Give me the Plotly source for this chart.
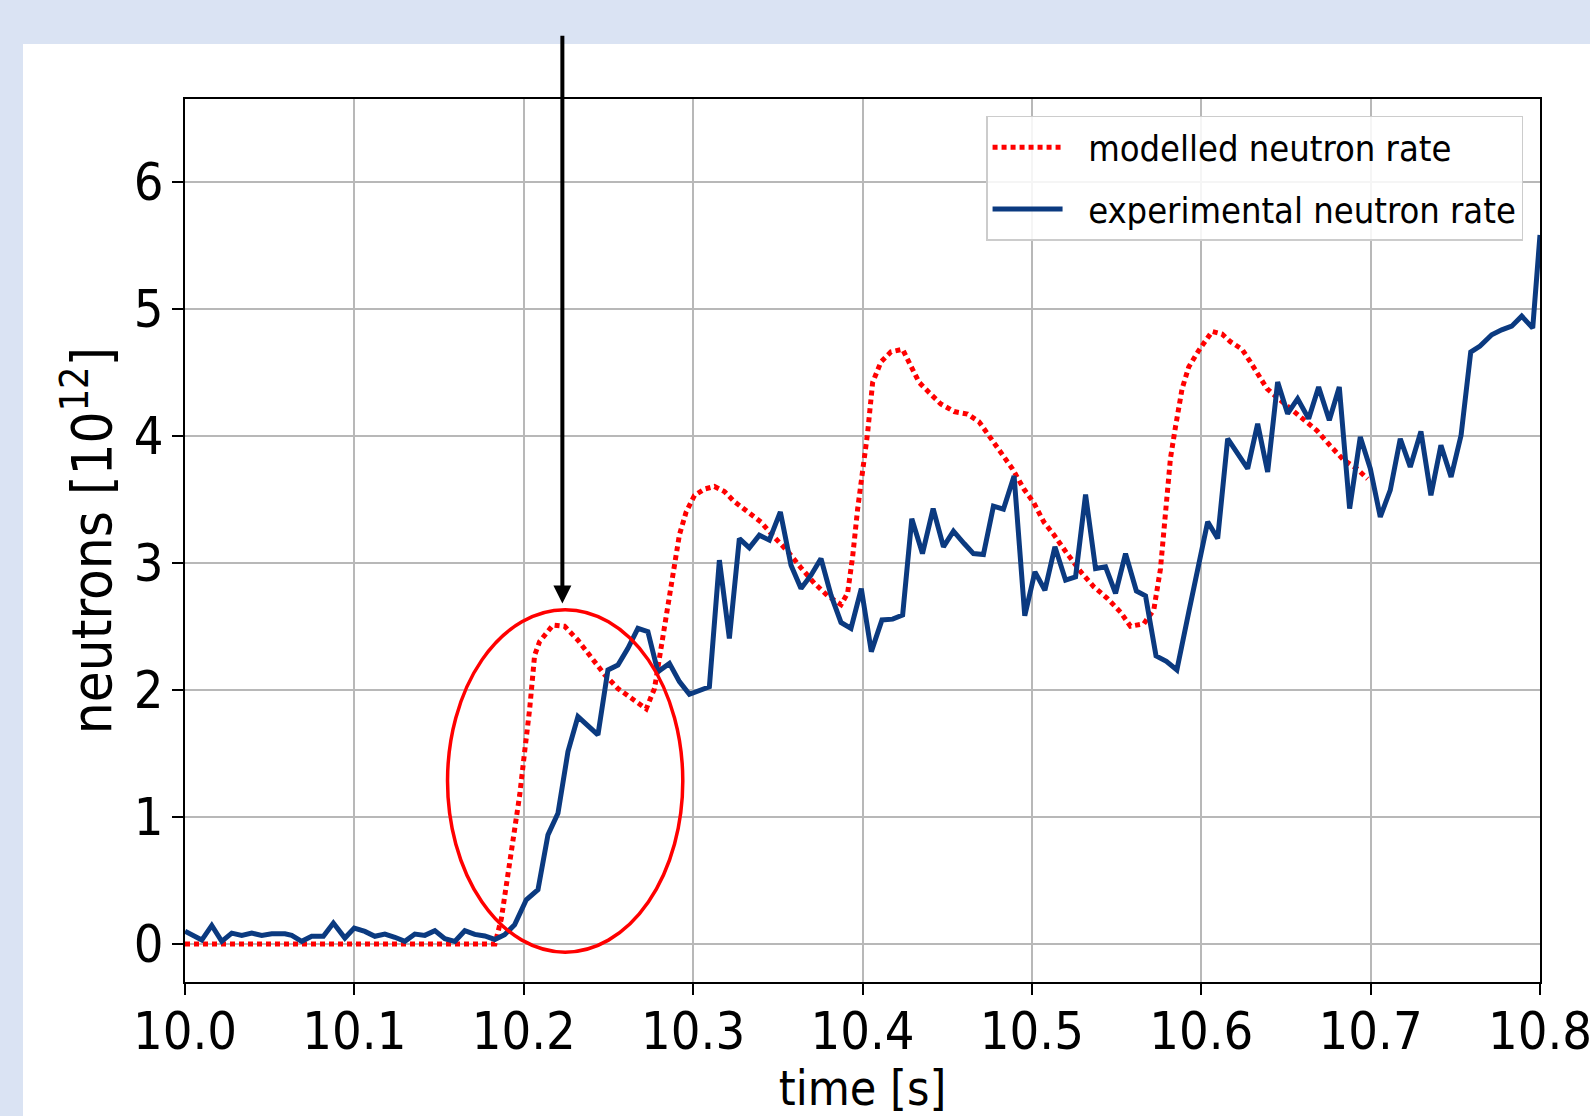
import plotly.graph_objects as go

# ---------------- data ----------------
t_model = [10.0, 10.183, 10.1868, 10.1907, 10.1946, 10.1976, 10.2005, 10.2035, 10.2064, 10.2094,
           10.2173, 10.2241, 10.232, 10.2399, 10.2477, 10.2556, 10.2654, 10.2723, 10.2772, 10.2801,
           10.2831, 10.2851, 10.288, 10.2919, 10.2959, 10.3008, 10.3067, 10.3126, 10.3185, 10.3244,
           10.3323, 10.3401, 10.348, 10.3558, 10.3637, 10.3715, 10.3794, 10.3873, 10.3912, 10.3942,
           10.3971, 10.4001, 10.403, 10.406, 10.4109, 10.4168, 10.4237, 10.4285, 10.4334, 10.4393,
           10.4462, 10.4541, 10.462, 10.4688, 10.4747, 10.4816, 10.4885, 10.4953, 10.5012, 10.5071,
           10.513, 10.5209, 10.5288, 10.5366, 10.5445, 10.5524, 10.5582, 10.5661, 10.572, 10.5759,
           10.5789, 10.5818, 10.5848, 10.5887, 10.5926, 10.5985, 10.6064, 10.6123, 10.6172, 10.6241,
           10.629, 10.6329, 10.6388, 10.6457, 10.6526, 10.6604, 10.6683, 10.6762, 10.684, 10.6919,
           10.6982]
n_model = [0.0, 0.0, 0.20, 0.54, 0.86, 1.17, 1.51, 1.85, 2.27, 2.38,
           2.51, 2.50, 2.39, 2.25, 2.12, 2.01, 1.92, 1.85, 2.01, 2.25,
           2.53, 2.64, 2.90, 3.22, 3.40, 3.53, 3.58, 3.60, 3.56, 3.48,
           3.40, 3.32, 3.20, 3.09, 2.96, 2.84, 2.74, 2.67, 2.76, 3.05,
           3.42, 3.70, 4.02, 4.42, 4.58, 4.66, 4.68, 4.55, 4.42, 4.34,
           4.25, 4.19, 4.17, 4.11, 4.00, 3.87, 3.74, 3.58, 3.47, 3.32,
           3.22, 3.07, 2.93, 2.81, 2.72, 2.61, 2.50, 2.52, 2.63, 2.95,
           3.45, 3.82, 4.07, 4.37, 4.54, 4.67, 4.82, 4.80, 4.74, 4.68,
           4.58, 4.49, 4.37, 4.29, 4.21, 4.13, 4.04, 3.92, 3.81, 3.74,
           3.66]

t_exp = [10.0, 10.0099, 10.0158, 10.0217, 10.0276, 10.0335, 10.0394, 10.0453, 10.0512, 10.059,
         10.063, 10.0689, 10.0748, 10.0817, 10.0876, 10.0944, 10.0999, 10.1062, 10.1121, 10.118,
         10.1239, 10.1298, 10.1357, 10.1416, 10.1475, 10.1534, 10.1593, 10.1652, 10.1711, 10.177,
         10.1829, 10.1887, 10.1946, 10.2015, 10.2084, 10.2143, 10.2202, 10.2261, 10.232, 10.2379,
         10.2438, 10.2497, 10.2556, 10.2615, 10.2674, 10.2733, 10.2792, 10.286, 10.2919, 10.2978,
         10.3037, 10.3096, 10.3155, 10.3214, 10.3273, 10.3332, 10.3391, 10.345, 10.3515, 10.3578,
         10.3637, 10.3696, 10.3755, 10.3814, 10.3873, 10.3932, 10.3993, 10.4052, 10.4115, 10.4178,
         10.4237, 10.4291, 10.4354, 10.4417, 10.4478, 10.4537, 10.46, 10.4655, 10.4714, 10.4773,
         10.4832, 10.4895, 10.4958, 10.5018, 10.5077, 10.5136, 10.5199, 10.5258, 10.5317, 10.5376,
         10.5435, 10.5494, 10.5553, 10.5617, 10.5671, 10.5733, 10.5794, 10.5856, 10.5926, 10.5985,
         10.6038, 10.6097, 10.6156, 10.6215, 10.6274, 10.6333, 10.6392, 10.6451, 10.651, 10.6569,
         10.6634, 10.6693, 10.6756, 10.6815, 10.6876, 10.6939, 10.6998, 10.7057, 10.7116, 10.7175,
         10.7234, 10.7297, 10.7356, 10.7415, 10.7475, 10.7534, 10.7591, 10.7646, 10.7715, 10.7774,
         10.7833, 10.7892, 10.7957, 10.8]
n_exp = [0.10, 0.03, 0.145, 0.02, 0.085, 0.067, 0.085, 0.067, 0.08, 0.08,
         0.067, 0.02, 0.06, 0.06, 0.164, 0.046, 0.124, 0.098, 0.06, 0.077,
         0.052, 0.02, 0.077, 0.067, 0.104, 0.041, 0.02, 0.104, 0.075, 0.062,
         0.035, 0.072, 0.151, 0.347, 0.426, 0.858, 1.028, 1.513, 1.789, 1.72,
         1.645, 2.156, 2.195, 2.326, 2.483, 2.457, 2.142, 2.208, 2.064, 1.964,
         1.99, 2.024, 3.02, 2.404, 3.19, 3.117, 3.217, 3.178, 3.40, 2.981,
         2.797, 2.902, 3.033, 2.745, 2.53, 2.483, 2.797, 2.30, 2.55, 2.556,
         2.588, 3.347, 3.072, 3.426, 3.125, 3.248, 3.151, 3.072, 3.065, 3.445,
         3.421, 3.683, 2.583, 2.928, 2.784, 3.125, 2.863, 2.889, 3.536, 2.954,
         2.968, 2.758, 3.072, 2.778, 2.74, 2.267, 2.224, 2.156, 2.61, 3.0,
         3.322, 3.19, 3.976, 3.858, 3.741, 4.094, 3.715, 4.422, 4.173, 4.291,
         4.134, 4.383, 4.121, 4.383, 3.426, 3.99, 3.741, 3.361, 3.571, 3.976,
         3.754, 4.034, 3.531, 3.924, 3.675, 4.003, 4.658, 4.705, 4.794, 4.833,
         4.862, 4.941, 4.847, 5.58]

x_ticks = [10.0, 10.1, 10.2, 10.3, 10.4, 10.5, 10.6, 10.7, 10.8]
x_labels = ["10.0", "10.1", "10.2", "10.3", "10.4", "10.5", "10.6", "10.7", "10.8"]
y_ticks = [0, 1, 2, 3, 4, 5, 6]
series_names = ["modelled neutron rate", "experimental neutron rate"]

# highlight marks (annotation), in data units
ellipse_x = [10.155, 10.2939]
ellipse_y = [-0.065, 2.63]
arrow_x = 10.2228
arrow_tip_y = 2.68
arrow_tail_y = 7.16

FONT = "DejaVu Sans Condensed, DejaVu Sans, sans-serif"
BAND = "#dae3f3"
PAD = "\u00a0\u00a0"

fig = go.Figure()
fig.add_trace(go.Scatter(
    x=t_model, y=n_model, mode="lines", name=PAD + series_names[0],
    line=dict(color="#ff0000", width=5, dash="5px,4px"), legendgroup="a"))
fig.add_trace(go.Scatter(
    x=t_exp, y=n_exp, mode="lines", name=PAD + series_names[1],
    line=dict(color="#0b3a80", width=5), legendgroup="b"))

# white panel over light-blue page background
L, R, T, B = 185, 50, 99, 134
pw, ph = 1590 - L - R, 1116 - T - B
fig.add_shape(type="rect", xref="paper", yref="paper",
              x0=(23 - L) / pw, x1=(1600 - L) / pw,
              y0=((1116 - B) - 1125) / ph, y1=((1116 - B) - 44) / ph,
              fillcolor="white", line=dict(width=0), layer="below")

fig.add_shape(type="circle", xref="x", yref="y",
              x0=ellipse_x[0], x1=ellipse_x[1], y0=ellipse_y[0], y1=ellipse_y[1],
              line=dict(color="#ff0000", width=3.5))

fig.add_annotation(x=arrow_x, y=arrow_tip_y, ax=arrow_x, ay=arrow_tail_y,
                   xref="x", yref="y", axref="x", ayref="y", text="",
                   showarrow=True, arrowhead=2, arrowsize=0.9, arrowwidth=4,
                   arrowcolor="black", standoff=0)

fig.update_layout(
    width=1590, height=1116,
    margin=dict(l=L, r=R, t=T, b=B, autoexpand=False),
    paper_bgcolor=BAND, plot_bgcolor="white",
    font=dict(family=FONT, color="black", size=50),
    showlegend=True,
    legend=dict(x=0.9875, xanchor="right", y=0.981, yanchor="top",
                bgcolor="rgba(255,255,255,0.85)", bordercolor="#cccccc", borderwidth=1.5,
                font=dict(family=FONT, size=36), tracegroupgap=12,
                traceorder="grouped", itemwidth=70),
)
fig.update_xaxes(
    range=[10.0, 10.8], tickvals=x_ticks, ticktext=x_labels,
    ticklabeloverflow="allow", automargin=False, ticklabelstandoff=-8,
    showgrid=True, gridcolor="#b8b8b8", gridwidth=2,
    showline=True, linecolor="black", linewidth=2, mirror=True,
    ticks="outside", ticklen=11, tickwidth=2, tickcolor="black",
    tickfont=dict(size=52), zeroline=False,
    title=dict(text="time [s]", font=dict(size=48), standoff=16))
fig.update_yaxes(
    range=[-0.30, 6.65], tickvals=y_ticks, automargin=False, ticklabelstandoff=-2,
    showgrid=True, gridcolor="#b8b8b8", gridwidth=2,
    showline=True, linecolor="black", linewidth=2, mirror=True,
    ticks="outside", ticklen=11, tickwidth=2, tickcolor="black",
    tickfont=dict(size=52), zeroline=False,
    title=dict(text="neutrons [10<sup>12</sup>]", font=dict(size=56), standoff=4))

fig.write_html("out.html")
